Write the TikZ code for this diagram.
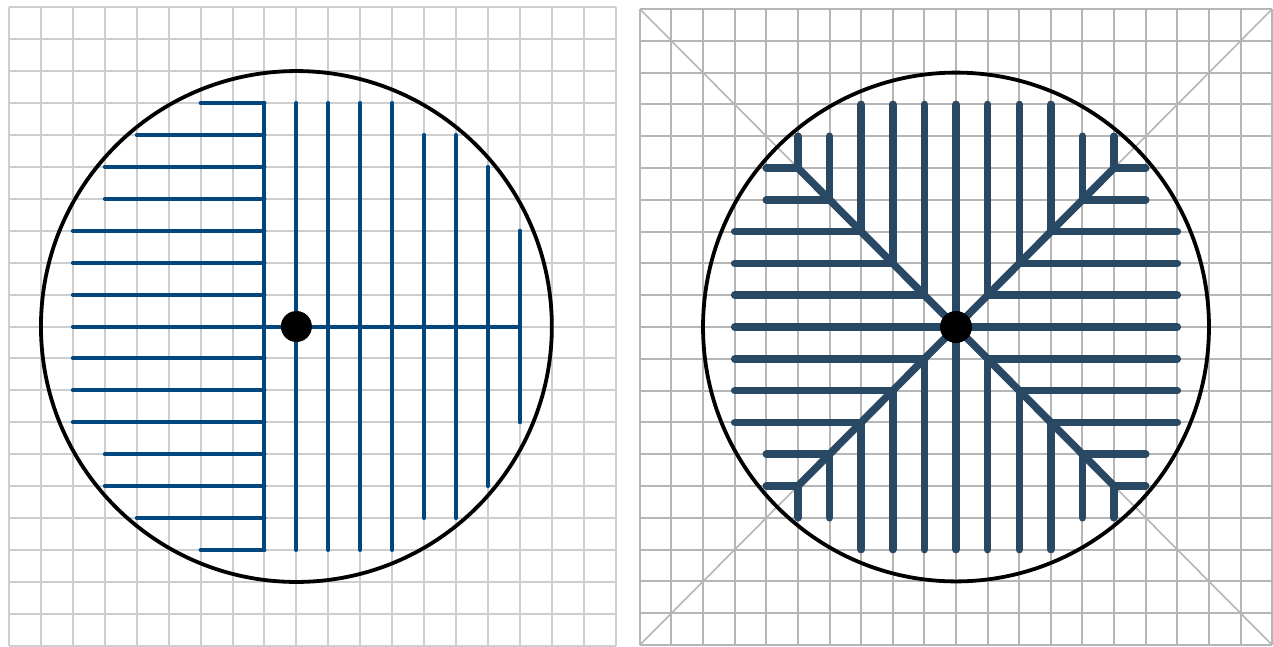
\documentclass[tikz,border=0pt]{standalone}
\usepackage{tikz}
\definecolor{gridA}{RGB}{206,206,206}
\definecolor{gridB}{RGB}{182,182,182}
\definecolor{blueA}{RGB}{0,70,127}
\definecolor{slateB}{RGB}{41,72,100}
\tikzset{
  gridlineA/.style={gridA, line width=2pt},
  gridlineB/.style={gridB, line width=2pt},
  diagline/.style={gridB, line width=1.6pt},
  hatchA/.style={blueA, line width=4pt, line cap=round},
  hatchB/.style={slateB, line width=7.5pt, line cap=round},
  rim/.style={black, line width=3.8pt},
}
\begin{document}
\begin{tikzpicture}[x=1pt,y=-1pt]
\useasboundingbox (0,0) rectangle (1273,646);
\fill[white] (0,0) rectangle (1273,646);
% ---------------- left panel ----------------
\begin{scope}[shift={(296.4,326.5)}, x=31.93pt, y=31.93pt]
  \foreach \i in {-9,...,10} \draw[gridlineA] (\i,-10) -- (\i,10);
  \foreach \j in {-10,...,10} \draw[gridlineA] (-9,\j) -- (10,\j);
  \draw[rim] (0,0) circle[radius=8];
  \foreach \k/\m in {7/3,6/5,5/6,4/6,3/7,2/7,1/7,-1/7,-2/7,-3/7,-4/6,-5/6,-6/5,-7/3}
    \draw[hatchA] (-\m,\k) -- (-1,\k);
  \draw[hatchA] (-7,0) -- (7,0);
  \draw[hatchA] (-1,-7) -- (-1,7);
  \foreach \j/\n in {0/7,1/7,2/7,3/7,4/6,5/6,6/5,7/3}
    \draw[hatchA] (\j,-\n) -- (\j,\n);
  \fill[black] (0,0) circle[radius=15.5pt];
\end{scope}
% ---------------- right panel ----------------
\begin{scope}[shift={(956,327)}, x=31.62pt, y=31.8pt]
  \foreach \i in {-10,...,10} \draw[gridlineB] (\i,-10) -- (\i,10);
  \foreach \j in {-10,...,10} \draw[gridlineB] (-10,\j) -- (10,\j);
  \draw[diagline] (-10,-10) -- (10,10);
  \draw[diagline] (-10,10) -- (10,-10);
  \draw[rim] (0,0) circle[radius=8];
  \draw[hatchB] (-5,-5) -- (5,5);
  \draw[hatchB] (-5,5) -- (5,-5);
  \foreach \k/\a/\n in {0/0/7,1/1/7,-1/1/7,2/2/7,-2/2/7,3/3/7,-3/3/7,4/4/6,-4/4/6,5/5/6,-5/5/6}{
    \draw[hatchB] (\k,\a) -- (\k,\n);
    \draw[hatchB] (\k,-\a) -- (\k,-\n);
    \draw[hatchB] (\a,\k) -- (\n,\k);
    \draw[hatchB] (-\a,\k) -- (-\n,\k);
  }
  \fill[black] (0,0) circle[radius=16pt];
\end{scope}
\end{tikzpicture}
\end{document}
